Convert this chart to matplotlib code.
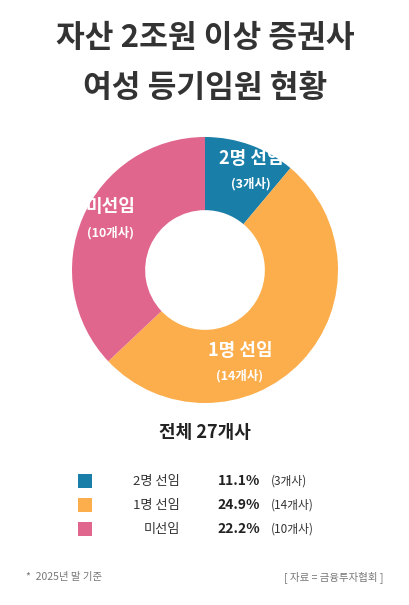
import matplotlib
matplotlib.use("Agg")
import matplotlib.pyplot as plt
from matplotlib.patches import Rectangle

plt.rcParams['font.family'] = ['Noto Sans CJK KR', 'DejaVu Sans']

categories = ['2명 선임', '1명 선임', '미선임']
counts = [3, 14, 10]
pct_labels = ['11.1%', '24.9%', '22.2%']
count_labels = ['(3개사)', '(14개사)', '(10개사)']
colors = ['#1a7fa8', '#fcae4c', '#e0668e']

W, H = 409, 605
fig = plt.figure(figsize=(W/100, H/100), dpi=100)
def T(x, y, s, **kw):
    fig.text(x/W, 1 - y/H, s, zorder=10, **kw)

T(205, 38, '자산 2조원 이상 증권사', ha='center', va='center', fontsize=22.5, fontweight='bold', color='#333333')
T(205, 88, '여성 등기임원 현황', ha='center', va='center', fontsize=22.5, fontweight='bold', color='#333333')

cx, cy, R = 205, 270, 133
ax = fig.add_axes([(cx-R)/W, (H-cy-R)/H, 2*R/W, 2*R/H])
ax.pie(counts, colors=colors, startangle=90, counterclock=False, radius=1,
       wedgeprops=dict(width=0.55, edgecolor='none'))
ax.set_xlim(-1, 1)
ax.set_ylim(-1, 1)
ax.set_aspect('equal')
ax.axis('off')

T(251, 158, categories[0], ha='center', va='center', fontsize=13, fontweight='bold', color='white')
T(251, 184, count_labels[0], ha='center', va='center', fontsize=9, fontweight='bold', color='white')
T(240, 350, categories[1], ha='center', va='center', fontsize=13, fontweight='bold', color='white')
T(240, 376, count_labels[1], ha='center', va='center', fontsize=9, fontweight='bold', color='white')
T(110, 207, categories[2], ha='center', va='center', fontsize=13, fontweight='bold', color='white')
T(110, 233, count_labels[2], ha='center', va='center', fontsize=9, fontweight='bold', color='white')

T(205, 433, '전체 27개사', ha='center', va='center', fontsize=13, fontweight='bold', color='#222222')

for i in range(3):
    y = 481 + i*24
    fig.patches.append(Rectangle(((78)/W, 1-(y+7)/H), 14/W, 14/H, transform=fig.transFigure,
                                 facecolor=colors[i], edgecolor='none'))
    T(180, y, categories[i], ha='right', va='center', fontsize=9.5, color='#333333')
    T(260, y, pct_labels[i], ha='right', va='center', fontsize=10, fontweight='bold', color='#222222')
    T(271, y, count_labels[i], ha='left', va='center', fontsize=8.5, color='#333333')

T(26, 577, '*  2025년 말 기준', ha='left', va='center', fontsize=7.5, color='#777777')
T(384, 577, '[ 자료 = 금융투자협회 ]', ha='right', va='center', fontsize=7.5, color='#777777')

fig.savefig('out.png', dpi=100, facecolor='white')
